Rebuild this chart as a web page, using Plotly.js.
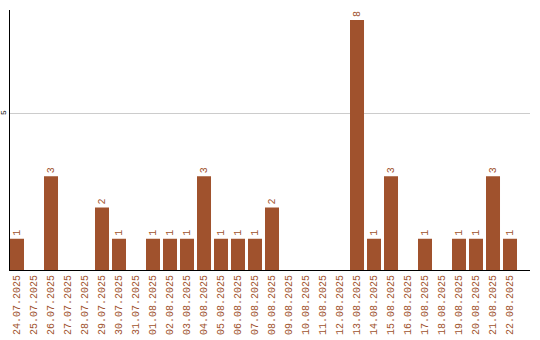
<!DOCTYPE html>
<html><head><meta charset="utf-8">
<script src="https://cdn.plot.ly/plotly-3.0.1.min.js"></script>
<style>html,body{margin:0;padding:0;background:#fff}</style>
</head><body>
<div id="chart" style="width:540px;height:340px"></div>
<script>
const dates = ["24.07.2025","25.07.2025","26.07.2025","27.07.2025","28.07.2025","29.07.2025","30.07.2025","31.07.2025",
"01.08.2025","02.08.2025","03.08.2025","04.08.2025","05.08.2025","06.08.2025","07.08.2025","08.08.2025","09.08.2025",
"10.08.2025","11.08.2025","12.08.2025","13.08.2025","14.08.2025","15.08.2025","16.08.2025","17.08.2025","18.08.2025",
"19.08.2025","20.08.2025","21.08.2025","22.08.2025"];
const counts = [1,0,3,0,0,2,1,0,1,1,1,3,1,1,1,2,0,0,0,0,8,1,3,0,1,0,1,1,3,1];
const labels = counts.map(v => v > 0 ? String(v) : "");
const yTicks = [5];
const color = "#a0522d";
Plotly.newPlot("chart", [{
  type: "bar", x: dates, y: counts, text: labels, textposition: "outside",
  textangle: -90, constraintext: "none", cliponaxis: false,
  textfont: {family: "Liberation Mono", size: 10, color: color},
  marker: {color: color}, hoverinfo: "none"
}], {
  width: 540, height: 340,
  margin: {l: 10, r: 10, t: 10, b: 70},
  paper_bgcolor: "#fff", plot_bgcolor: "#fff",
  bargap: 0.176, showlegend: false,
  xaxis: {type: "category", range: [-0.412, 30.176], tickangle: -90, showline: true, linecolor: "#000", linewidth: 1,
    ticks: "", tickfont: {family: "Liberation Mono", size: 10, color: color}, showgrid: false},
  yaxis: {range: [0, 8.32], tickvals: yTicks, ticktext: yTicks.map(String), showline: true, linecolor: "#000", linewidth: 1,
    gridcolor: "#cccccc", zeroline: false, ticks: "", tickangle: -90,
    tickfont: {family: "Liberation Mono", size: 8, color: "#000"}, showticklabels: true}
}, {staticPlot: true});
</script>
</body></html>
